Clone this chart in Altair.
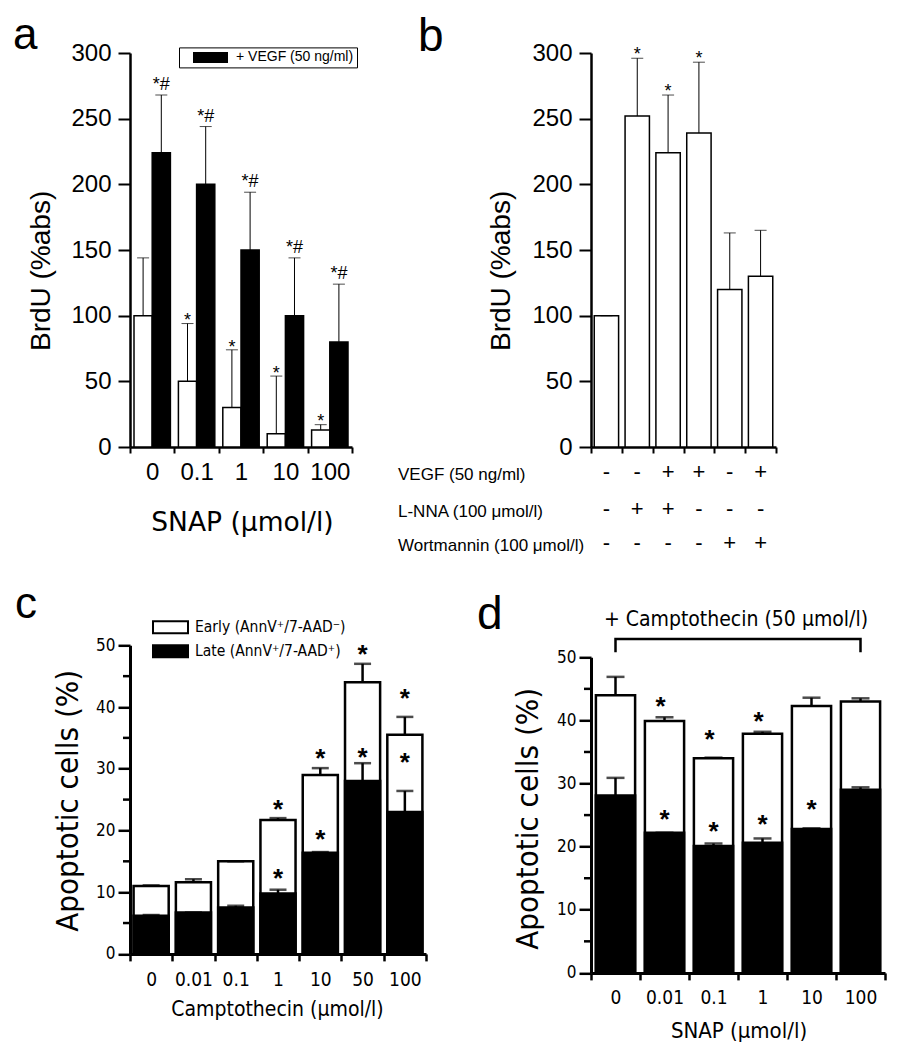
import altair as alt
import pandas as pd

FA = "'Liberation Sans', Arial, sans-serif"
FN = "'DejaVu Sans Condensed', 'Liberation Sans', sans-serif"
FW = "'DejaVu Sans', sans-serif"

# ---------------- data ----------------
# panel a
a_conc = ["0", "0.1", "1", "10", "100"]
a_groups = ["Control", "+ VEGF (50 ng/ml)"]
a_ctrl = [100, 50, 30, 10, 13]
a_ctrl_err = [144, 94, 74, 54, 17]
a_vegf = [224, 200, 150, 100, 80]
a_vegf_err = [268, 244, 194, 144, 124]
a_ctrl_sig = ["", "*", "*", "*", "*"]
a_vegf_sig = ["*#", "*#", "*#", "*#", "*#"]

# panel b
b_cond = ["1", "2", "3", "4", "5", "6"]
b_mean = [100, 252, 224, 239, 120, 130]
b_err = [100, 296, 268, 293, 163, 165]
b_sig = ["", "*", "*", "*", "", ""]
b_vegf = ["-", "-", "+", "+", "-", "+"]
b_lnna = ["-", "+", "+", "-", "-", "-"]
b_wort = ["-", "-", "-", "-", "+", "+"]
b_rows = ["VEGF (50 ng/ml)", "L-NNA (100 μmol/l)", "Wortmannin (100 μmol/l)"]

# panel c
series = ["Early (AnnV⁺/7-AAD⁻)", "Late (AnnV⁺/7-AAD⁺)"]
c_conc = ["0", "0.01", "0.1", "1", "10", "50", "100"]
c_late = [6.2, 6.7, 7.5, 9.8, 16.4, 28.0, 23.0]
c_late_err = [6.3, 6.7, 7.8, 10.4, 16.5, 30.9, 26.4]
c_total = [11.0, 11.6, 15.0, 21.7, 29.0, 44.0, 35.5]
c_total_err = [11.1, 12.1, 15.0, 22.0, 30.1, 47.0, 38.4]
c_star_x = ["1", "10", "50", "100"]
c_star_top = [24.5, 32.7, 49.6, 42.4]
c_star_in = [13.3, 19.6, 32.9, 32.1]

# panel d
d_conc = ["0", "0.01", "0.1", "1", "10", "100"]
d_late = [28.1, 22.2, 20.1, 20.6, 22.8, 29.0]
d_late_err = [30.9, 22.2, 20.5, 21.3, 22.9, 29.4]
d_total = [44.0, 39.9, 34.0, 37.9, 42.3, 43.0]
d_total_err = [46.9, 40.5, 34.1, 38.2, 43.6, 43.5]
d_star_top_x = ["0.01", "0.1", "1"]
d_star_top = [43.3, 38.0, 40.9]
d_star_in_x = ["0.01", "0.1", "1", "10"]
d_star_in = [25.3, 23.5, 24.6, 26.9]
d_bracket_x = ["0", "0", "100", "100"]
d_bracket_y = [50.8, 52.9, 52.9, 50.8]

minor_ticks = [5, 15, 25, 35, 45]


def panel_label(letter, x, y, size):
    return alt.Chart(pd.DataFrame({"t": [letter]})).mark_text(
        font=FA, fontSize=size, align="left", baseline="top", color="black"
    ).encode(text="t:N", x=alt.value(x), y=alt.value(y))


def free_text(txt, x, y, size, font, align="left", baseline="middle"):
    return alt.Chart(pd.DataFrame({"t": [txt]})).mark_text(
        font=font, fontSize=size, align=align, baseline=baseline, color="black"
    ).encode(text="t:N", x=alt.value(x), y=alt.value(y))


# ---------------- panel a ----------------
Wa, Ha = 222, 394
a_df = pd.DataFrame({
    "conc": a_conc * 2,
    "group": [a_groups[0]] * 5 + [a_groups[1]] * 5,
    "mean": a_ctrl + a_vegf,
    "err": a_ctrl_err + a_vegf_err,
    "sig": a_ctrl_sig + a_vegf_sig,
})
a_x = alt.X("conc:N", sort=a_conc, scale=alt.Scale(paddingInner=0, paddingOuter=0),
            axis=alt.Axis(title="SNAP (μmol/l)", labelAngle=0, labelFont=FA, labelFontSize=24,
                          labelPadding=7.6, tickSize=6, tickWidth=2, domainWidth=2.5,
                          tickBand="extent", titleFont=FW, titleFontSize=26.5, titleX=112,
                          titleY=83.4, titleBaseline="alphabetic", titleAlign="center"))
a_off = alt.XOffset("group:N", sort=a_groups, scale=alt.Scale(paddingInner=0, paddingOuter=0.22))
a_yaxis = alt.Axis(title="BrdU (%abs)", values=[0, 50, 100, 150, 200, 250, 300], labelFont=FA,
                   labelFontSize=24, labelPadding=7, tickSize=12, tickWidth=2, domainWidth=2.5,
                   titleFont=FA, titleFontSize=28, titleX=-88.5, titleY=217.4,
                   titleBaseline="middle", titleAlign="center", titleAngle=270)


def a_y(field):
    return alt.Y(f"{field}:Q", scale=alt.Scale(domain=[0, 300], nice=False), axis=a_yaxis)


a_base = alt.Chart(a_df)
a_bars = a_base.mark_bar(stroke="black", strokeWidth=1.5).encode(
    x=a_x, xOffset=a_off, y=a_y("mean"),
    fill=alt.Fill("group:N", scale=alt.Scale(domain=a_groups, range=["white", "black"]),
                  legend=alt.Legend(orient="none", legendX=49, legendY=-5.6, title=None,
                                    values=[a_groups[1]], padding=3, strokeColor="black",
                                    fillColor="white",
                                    symbolType="M-2.9167,-0.9167H2.9167V0.9167H-2.9167Z",
                                    symbolSize=144, symbolOffset=21.5, labelOffset=18.5,
                                    symbolStrokeWidth=0, labelFont=FA, labelFontSize=14,
                                    labelColor="black",
                                    labelExpr="datum.label + '\u00a0\u00a0\u00a0'")))
a_err = a_base.mark_rule(color="black", strokeWidth=1).encode(
    x=a_x, xOffset=a_off, y=a_y("mean"), y2="err:Q")
a_cap = a_base.mark_tick(color="black", thickness=1, size=12, orient="horizontal").encode(
    x=a_x, xOffset=a_off, y=a_y("err"))
a_sig1 = a_base.transform_filter(alt.datum.group == a_groups[0]).mark_text(
    font=FA, fontSize=18, baseline="alphabetic", dy=2.7, color="black").encode(
    x=a_x, xOffset=a_off, y=a_y("err"), text="sig:N")
a_sig2 = a_base.transform_filter(alt.datum.group == a_groups[1]).mark_text(
    font=FA, fontSize=18, baseline="alphabetic", dy=-5, color="black").encode(
    x=a_x, xOffset=a_off, y=a_y("err"), text="sig:N")
panel_a = alt.layer(a_bars, a_err, a_cap, a_sig1, a_sig2,
                    panel_label("a", -117, -39.4, 44)).properties(width=Wa, height=Ha)

# ---------------- panel b ----------------
Wb, Hb = 185, 394
b_df = pd.DataFrame({"cond": b_cond, "mean": b_mean, "err": b_err, "sig": b_sig,
                     "vegf": b_vegf, "lnna": b_lnna, "wort": b_wort})
b_x = alt.X("cond:N", sort=b_cond, scale=alt.Scale(paddingInner=0, paddingOuter=0),
            axis=alt.Axis(title=None, labels=False, tickSize=6, tickWidth=2, domainWidth=2.5,
                          tickBand="extent"))
b_yaxis = alt.Axis(title="BrdU (%abs)", values=[0, 50, 100, 150, 200, 250, 300], labelFont=FA,
                   labelFontSize=24, labelPadding=7, tickSize=12, tickWidth=2, domainWidth=2.5,
                   titleFont=FA, titleFontSize=28, titleX=-89.5, titleY=217.4,
                   titleBaseline="middle", titleAlign="center", titleAngle=270)


def b_y(field):
    return alt.Y(f"{field}:Q", scale=alt.Scale(domain=[0, 300], nice=False), axis=b_yaxis)


b_base = alt.Chart(b_df)
b_bars = b_base.mark_bar(fill="white", stroke="black", strokeWidth=1.5,
                         width=alt.RelativeBandSize(0.79)).encode(x=b_x, y=b_y("mean"))
b_errl = b_base.mark_rule(color="black", strokeWidth=1).encode(x=b_x, y=b_y("mean"), y2="err:Q")
b_cap = b_base.mark_tick(color="black", thickness=1, size=12, orient="horizontal").encode(
    x=b_x, y=b_y("err"))
b_sigt = b_base.mark_text(font=FA, fontSize=18, baseline="alphabetic", dy=1.7,
                          color="black").encode(x=b_x, y=b_y("err"), text="sig:N")
b_layers = [b_bars, b_errl, b_cap, b_sigt]
for field, yv, lab in zip(["vegf", "lnna", "wort"], [419.2, 455.6, 490.0], b_rows):
    b_layers.append(b_base.mark_text(font=FA, fontSize=22, baseline="middle", color="black")
                    .encode(x=b_x, y=alt.value(yv), text=f"{field}:N"))
    b_layers.append(free_text(lab, -193, yv + 3, 17, FA))
b_layers.append(panel_label("b", -173, -38, 46))
panel_b = alt.layer(*b_layers).properties(width=Wb, height=Hb)

# ---------------- panel c ----------------
Wc, Hc = 296, 308.6
c_df = pd.DataFrame({
    "conc": c_conc * 2,
    "series": [series[0]] * 7 + [series[1]] * 7,
    "value": c_total + c_late,
    "err": c_total_err + c_late_err,
})
c_x = alt.X("conc:N", sort=c_conc, scale=alt.Scale(paddingInner=0, paddingOuter=0),
            axis=alt.Axis(title="Camptothecin (μmol/l)", labelAngle=0, labelFont=FN,
                          labelFontSize=19, labelPadding=10, tickSize=7, tickWidth=2.5,
                          domainWidth=3, tickBand="extent", titleFont=FN, titleFontSize=21,
                          titleX=147, titleY=61.4, titleBaseline="alphabetic",
                          titleAlign="center"))
c_yaxis = alt.Axis(title="Apoptotic cells (%)", values=[0, 10, 20, 30, 40, 50], labelFont=FN,
                   labelFontSize=17, labelPadding=3, tickSize=12, tickWidth=2.5, domainWidth=3,
                   titleFont=FN, titleFontSize=31, titleX=-62, titleY=155,
                   titleBaseline="middle", titleAlign="center", titleAngle=270)


def c_y(field):
    return alt.Y(f"{field}:Q", scale=alt.Scale(domain=[0, 50], nice=False), axis=c_yaxis,
                 stack=None)


c_base = alt.Chart(c_df)
c_bars = c_base.mark_bar(stroke="black", strokeWidth=2.5,
                         width=alt.RelativeBandSize(0.83)).encode(
    x=c_x, y=c_y("value"),
    fill=alt.Fill("series:N", scale=alt.Scale(domain=series, range=["white", "black"]),
                  legend=alt.Legend(orient="none", legendX=23, legendY=-25.7, title=None,
                                    padding=0, rowPadding=3,
                                    symbolType="M-2.9167,-1H2.9167V1H-2.9167Z",
                                    symbolSize=144, symbolOffset=9.75, labelOffset=16.75,
                                    symbolStrokeColor="black", symbolStrokeWidth=2,
                                    labelFont=FN, labelFontSize=15.5, labelColor="black")))
c_errl = c_base.mark_rule(color="black", strokeWidth=2.5).encode(x=c_x, y=c_y("value"), y2="err:Q")
c_cap = c_base.mark_tick(color="black", thickness=2.5, size=17, orient="horizontal").encode(
    x=c_x, y=c_y("err"))
c_st = alt.Chart(pd.DataFrame({"conc": c_star_x, "top": c_star_top, "inside": c_star_in}))
c_st1 = c_st.mark_text(text="*", font=FA, fontSize=26, fontWeight="bold", baseline="alphabetic",
                       dy=15, color="black").encode(x=c_x, y=c_y("top"))
c_st2 = c_st.mark_text(text="*", font=FA, fontSize=26, fontWeight="bold", baseline="alphabetic",
                       dy=15, color="black").encode(x=c_x, y=c_y("inside"))
c_minor = alt.Chart(pd.DataFrame({"value": minor_ticks})).mark_rule(
    color="black", strokeWidth=2.5).encode(y=c_y("value"), x=alt.value(-7), x2=alt.value(0))
panel_c = alt.layer(c_bars, c_errl, c_cap, c_st1, c_st2, c_minor,
                    panel_label("c", -115, -62.7, 44)).properties(width=Wc, height=Hc)

# ---------------- panel d ----------------
Wd, Hd = 294, 327.6
d_df = pd.DataFrame({
    "conc": d_conc * 2,
    "series": [series[0]] * 6 + [series[1]] * 6,
    "value": d_total + d_late,
    "err": d_total_err + d_late_err,
})
d_x = alt.X("conc:N", sort=d_conc, scale=alt.Scale(paddingInner=0, paddingOuter=0),
            axis=alt.Axis(title="SNAP (μmol/l)", labelAngle=0, labelFont=FN, labelFontSize=19,
                          labelPadding=9, tickSize=7, tickWidth=2.5, domainWidth=3,
                          tickBand="extent", titleFont=FN, titleFontSize=22, titleX=147.5,
                          titleY=64.7, titleBaseline="alphabetic", titleAlign="center"))
d_yaxis = alt.Axis(title="Apoptotic cells (%)", values=[0, 10, 20, 30, 40, 50], labelFont=FN,
                   labelFontSize=17, labelPadding=3, tickSize=12, tickWidth=2.5, domainWidth=3,
                   titleFont=FN, titleFontSize=31, titleX=-62.5, titleY=173,
                   titleBaseline="middle", titleAlign="center", titleAngle=270)


def d_y(field):
    return alt.Y(f"{field}:Q", scale=alt.Scale(domain=[0, 50], nice=False, range=[Hd, 12]),
                 axis=d_yaxis, stack=None)


d_base = alt.Chart(d_df)
d_bars = d_base.mark_bar(stroke="black", strokeWidth=2.5,
                         width=alt.RelativeBandSize(0.8)).encode(
    x=d_x, y=d_y("value"),
    fill=alt.Fill("series:N", scale=alt.Scale(domain=series, range=["white", "black"]),
                  legend=None))
d_errl = d_base.mark_rule(color="black", strokeWidth=2.5).encode(x=d_x, y=d_y("value"), y2="err:Q")
d_cap = d_base.mark_tick(color="black", thickness=2.5, size=18, orient="horizontal").encode(
    x=d_x, y=d_y("err"))
d_st1 = alt.Chart(pd.DataFrame({"conc": d_star_top_x, "top": d_star_top})).mark_text(
    text="*", font=FA, fontSize=26, fontWeight="bold", baseline="alphabetic", dy=15, dx=-4,
    color="black").encode(x=d_x, y=d_y("top"))
d_st2 = alt.Chart(pd.DataFrame({"conc": d_star_in_x, "inside": d_star_in})).mark_text(
    text="*", font=FA, fontSize=26, fontWeight="bold", baseline="alphabetic", dy=15,
    color="black").encode(x=d_x, y=d_y("inside"))
d_minor = alt.Chart(pd.DataFrame({"value": minor_ticks})).mark_rule(
    color="black", strokeWidth=2.5).encode(y=d_y("value"), x=alt.value(-7), x2=alt.value(0))
d_bracket = alt.Chart(pd.DataFrame({"conc": d_bracket_x, "value": d_bracket_y,
                                    "o": [0, 1, 2, 3]})).mark_line(
    color="black", strokeWidth=2.5).encode(x=d_x, y=d_y("value"), order="o:Q")
panel_d = alt.layer(d_bars, d_errl, d_cap, d_st1, d_st2, d_minor, d_bracket,
                    free_text("+ Camptothecin (50 μmol/l)", 145, -19.7, 21, FN,
                              align="center", baseline="alphabetic"),
                    panel_label("d", -114, -52.3, 46)).properties(width=Wd, height=Hd)

chart = alt.concat(panel_a, panel_b, panel_c, panel_d, columns=2, bounds="flush",
                   spacing=alt.RowColnumber(row=198.3, column=165)).resolve_scale(
    fill="independent").resolve_legend(fill="independent").properties(
    padding={"left": 5, "top": 5, "right": 5, "bottom": 5}
).configure_view(stroke=None).configure_axis(
    labelColor="black", titleColor="black", domainColor="black", tickColor="black",
    grid=False, titleFontWeight="normal"
)

chart.save("out.html", embed_options={"renderer": "svg", "actions": False})
